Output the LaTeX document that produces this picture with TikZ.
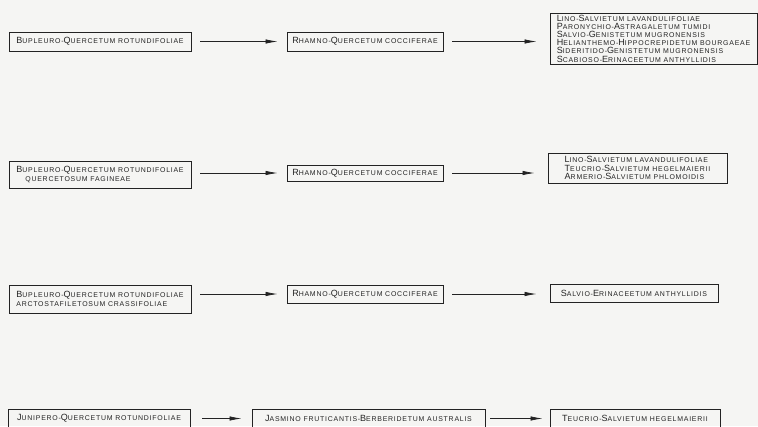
\documentclass[tikz,border=0pt]{standalone}
\usepackage{fontspec}
\usetikzlibrary{positioning,arrows.meta}
\newfontfamily\letterfont[LetterSpace=11]{Liberation Sans}
\definecolor{mypaper}{RGB}{245,245,243}
\definecolor{myink}{RGB}{35,35,35}
\newcommand\ini[1]{{\fontsize{9}{8}\selectfont#1}}

\begin{document}
\begin{tikzpicture}[x=1pt,y=-1pt,
        assocb/.style={
            draw=myink,
            line width=0.9pt,
            inner sep=0pt,
            text=myink,
            font={\letterfont\fontsize{6.95}{8.2}\selectfont},
            align=left,
            minimum height=19pt},
        succ/.style={-{Latex[length=12pt,width=4.5pt]},line width=0.75pt,draw=myink,
            shorten <=9pt,shorten >=9pt},
    ]
    \fill[mypaper] (0,0) rectangle (758,426);
    \useasboundingbox (0,0) rectangle (758,426);

    % first row
    \node[assocb,minimum width=182pt] (BupA) at (100,41.5) {\ini{B}UPLEURO-\ini{Q}UERCETUM ROTUNDIFOLIAE};
    \node[assocb,minimum width=156pt] (RhamA) at (365,41.5) {\ini{R}HAMNO-\ini{Q}UERCETUM COCCIFERAE};
    \node[assocb,minimum width=207pt,minimum height=51pt] (SerA) at (653.5,38.5) {\ini{L}INO-\ini{S}ALVIETUM LAVANDULIFOLIAE\\
        \ini{P}ARONYCHIO-\ini{A}STRAGALETUM TUMIDI\\
        \ini{S}ALVIO-\ini{G}ENISTETUM MUGRONENSIS\\
        \ini{H}ELIANTHEMO-\ini{H}IPPOCREPIDETUM BOURGAEAE\\
        \ini{S}IDERITIDO-\ini{G}ENISTETUM MUGRONENSIS\\
        \ini{S}CABIOSO-\ini{E}RINACEETUM ANTHYLLIDIS};

    % second row
    \node[assocb,minimum width=182pt,minimum height=27pt] (BupB) at (100,174.5) {\ini{B}UPLEURO-\ini{Q}UERCETUM ROTUNDIFOLIAE\\[1.5pt]
        \hspace*{9pt}QUERCETOSUM FAGINEAE};
    \node[assocb,minimum width=156pt,minimum height=16pt] (RhamB) at (365,173) {\ini{R}HAMNO-\ini{Q}UERCETUM COCCIFERAE};
    \node[assocb,minimum width=179pt,minimum height=30pt] (SerB) at (637.5,168) {\ini{L}INO-\ini{S}ALVIETUM LAVANDULIFOLIAE\\
        \ini{T}EUCRIO-\ini{S}ALVIETUM HEGELMAIERII\\
        \ini{A}RMERIO-\ini{S}ALVIETUM PHLOMOIDIS};

    % third row
    \node[assocb,minimum width=182pt,minimum height=28pt] (BupC) at (100,299) {\ini{B}UPLEURO-\ini{Q}UERCETUM ROTUNDIFOLIAE\\[1.5pt]
        ARCTOSTAFILETOSUM CRASSIFOLIAE};
    \node[assocb,minimum width=156pt,minimum height=18pt] (RhamC) at (365,294) {\ini{R}HAMNO-\ini{Q}UERCETUM COCCIFERAE};
    \node[assocb,minimum width=168pt,minimum height=18pt] (SerC) at (634,293) {\ini{S}ALVIO-\ini{E}RINACEETUM ANTHYLLIDIS};

    % fourth row
    \node[assocb,minimum width=182pt] (JunD) at (99,418.5) {\ini{J}UNIPERO-\ini{Q}UERCETUM ROTUNDIFOLIAE};
    \node[assocb,minimum width=233pt] (JasD) at (368.5,418.5) {\ini{J}ASMINO FRUTICANTIS-\ini{B}ERBERIDETUM AUSTRALIS};
    \node[assocb,minimum width=170pt] (TeuD) at (635,418.5) {\ini{T}EUCRIO-\ini{S}ALVIETUM HEGELMAIERII};

    % successions
    \draw[succ] (BupA.east |- RhamA.west) -- (RhamA.west);
    \draw[succ,shorten >=13pt] (RhamA.east) -- (RhamA.east -| SerA.west);
    \draw[succ] (BupB.east |- RhamB.west) -- (RhamB.west);
    \draw[succ,shorten >=13pt] (RhamB.east) -- (RhamB.east -| SerB.west);
    \draw[succ] (BupC.east |- RhamC.west) -- (RhamC.west);
    \draw[succ,shorten >=13pt] (RhamC.east) -- (RhamC.east -| SerC.west);
    \draw[succ,shorten <=12pt,shorten >=10pt] (JunD.east) -- (JasD.west);
    \draw[succ,shorten <=5pt,shorten >=7pt] (JasD.east) -- (TeuD.west);
\end{tikzpicture}
\end{document}
